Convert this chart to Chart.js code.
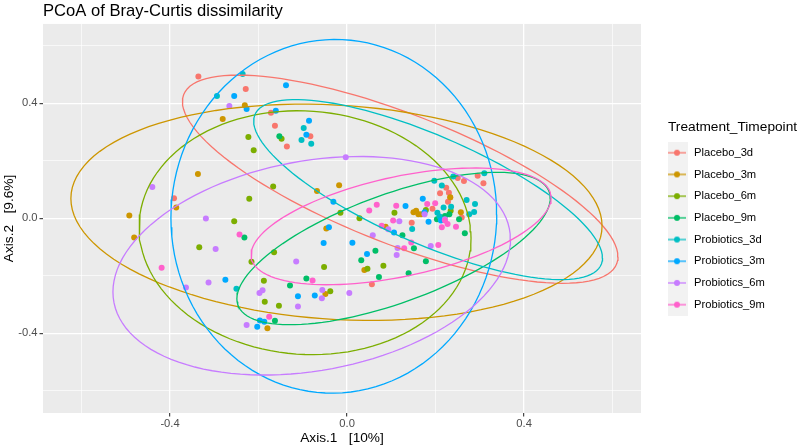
<!DOCTYPE html>
<html>
<head>
<meta charset="utf-8">
<script src="https://cdn.jsdelivr.net/npm/chart.js@4.4.1/dist/chart.umd.min.js"></script>
<style>
  html, body { margin: 0; padding: 0; background: #fff; }
  #wrap { width: 800px; height: 448px; }
</style>
</head>
<body>
<div id="wrap"><canvas id="grafico"></canvas></div>
<script>
// grupos e cores (paleta padrao do ggplot)
const grupos = ['Placebo_3d', 'Placebo_3m', 'Placebo_6m', 'Placebo_9m',
  'Probiotics_3d', 'Probiotics_3m', 'Probiotics_6m', 'Probiotics_9m'];
const cores = ['#F8766D', '#CD9600', '#7CAE00', '#00BE67',
  '#00BFC4', '#00A9FF', '#C77CFF', '#FF61CC'];

// pontos [Axis.1, Axis.2]
const placebo3d = [[-0.336,0.493],[-0.229,0.450],[-0.172,0.367],[-0.163,0.322],[-0.083,0.285],[-0.136,0.250],
  [-0.391,0.070],[0.250,0.140],[0.264,0.130],[0.295,0.148],[0.308,0.122],[0.224,0.106],[0.210,0.087],
  [0.230,0.089],[0.233,0.072],[0.228,0.058],[0.193,0.033],[0.146,-0.015],[0.056,-0.229],[0.259,0.003]];
const placebo3m = [[-0.281,0.345],[-0.231,0.393],[-0.337,0.154],[-0.386,0.038],[-0.492,0.010],[-0.481,-0.067],
  [-0.068,0.095],[-0.018,0.115],[-0.047,-0.035],[0.087,-0.029],[0.150,0.021],[0.156,0.026],[0.161,0.014],
  [0.167,0.014],[0.257,0.021],[0.233,0.073],[0.039,-0.180],[-0.049,-0.263],[-0.180,-0.382]];
const placebo6m = [[-0.223,0.283],[-0.148,0.277],[-0.211,0.237],[-0.167,0.111],[-0.221,0.068],[-0.255,-0.010],
  [-0.015,0.019],[0.028,0.000],[0.107,0.019],[0.178,0.029],[0.234,0.026],[-0.334,-0.101],[-0.165,-0.118],
  [-0.216,-0.151],[-0.052,-0.169],[0.046,-0.175],[0.082,-0.165],[-0.188,-0.217],[-0.038,-0.254],
  [-0.186,-0.290],[-0.154,-0.304]];
const placebo9m = [[-0.153,0.285],[-0.232,-0.067],[0.231,0.014],[0.221,0.008],[0.203,-0.003],[0.253,-0.003],
  [0.266,-0.052],[0.125,-0.059],[0.151,-0.104],[0.178,-0.149],[0.064,-0.113],[0.032,-0.146],[0.139,-0.191],
  [0.072,-0.204],[-0.092,-0.209],[-0.129,-0.234],[-0.163,-0.356]];
const probiotics3d = [[-0.294,0.425],[-0.236,0.502],[-0.098,0.314],[-0.103,0.272],[-0.081,0.259],[0.197,0.131],
  [0.214,0.114],[0.310,0.157],[0.240,0.145],[0.270,0.064],[0.289,0.050],[0.218,0.038],[0.235,0.040],
  [0.204,0.019],[0.287,0.022],[0.276,0.014],[0.209,0.006],[0.147,-0.037],[-0.250,-0.245]];
const probiotics3m = [[-0.255,0.425],[-0.138,0.463],[-0.227,0.380],[-0.161,0.374],[-0.086,0.339],[-0.092,0.291],
  [-0.031,0.058],[-0.041,-0.031],[0.106,-0.049],[0.171,0.068],[0.132,0.043],[0.175,0.021],[0.212,-0.008],
  [0.184,-0.012],[-0.275,-0.214],[-0.053,-0.086],[0.012,-0.085],[0.045,-0.124],[-0.073,-0.268],
  [-0.111,-0.271],[-0.197,-0.355],[-0.187,-0.360],[-0.203,-0.377]];
const probiotics6m = [[-0.266,0.391],[-0.440,0.109],[-0.319,-0.001],[-0.003,0.212],[0.118,-0.010],[0.093,-0.038],
  [0.058,-0.059],[0.175,0.014],[0.221,-0.003],[0.114,-0.103],[0.189,-0.096],[0.112,-0.128],[-0.297,-0.107],
  [-0.313,-0.223],[-0.364,-0.241],[-0.115,-0.150],[-0.191,-0.250],[-0.198,-0.260],[-0.056,-0.249],
  [0.005,-0.260],[-0.057,-0.278],[-0.111,-0.307],[-0.227,-0.371]];
const probiotics9m = [[-0.243,-0.056],[0.067,0.047],[0.050,0.027],[0.111,0.044],[0.104,-0.008],[0.078,-0.026],
  [0.181,0.050],[0.199,0.052],[0.221,-0.008],[0.227,-0.020],[0.214,-0.031],[0.246,-0.029],[0.145,-0.084],
  [0.129,-0.104],[0.206,-0.093],[-0.419,-0.172],[-0.078,-0.216],[-0.176,-0.342]];
const pontos = [placebo3d, placebo3m, placebo6m, placebo9m, probiotics3d, probiotics3m, probiotics6m, probiotics9m];

// elipses 95%: centro, meia-largura, meia-altura e correlacao
const elipseCx = [0.120, -0.024, -0.095, 0.105, 0.183, -0.030, -0.080, 0.122];
const elipseCy = [0.136, 0.021, -0.050, -0.105, 0.100, 0.007, -0.165, -0.028];
const elipseRx = [0.492, 0.600, 0.375, 0.354, 0.394, 0.368, 0.449, 0.339];
const elipseRy = [0.362, 0.376, 0.424, 0.265, 0.313, 0.615, 0.380, 0.203];
const elipseRho = [-0.745, -0.127, -0.045, 0.660, -0.760, 0.010, 0.240, 0.490];

// eixos
const limitesX = [-0.687, 0.664];
const limitesY = [-0.677, 0.676];
const gradeX = [-0.6, -0.4, -0.2, 0, 0.2, 0.4, 0.6];
const gradeY = [-0.6, -0.4, -0.2, 0, 0.2, 0.4, 0.6];
const marcas = [-0.4, 0, 0.4];

const fonte = "'Liberation Sans', Arial, sans-serif";
Chart.defaults.font.family = fonte;

function ehMarca(v) {
  return marcas.some(m => Math.abs(m - v) < 1e-9);
}

function contornoElipse(i) {
  const fase = Math.acos(elipseRho[i]);
  const lista = [];
  for (let k = 0; k <= 120; k++) {
    const t = 2 * Math.PI * k / 120;
    lista.push({x: elipseCx[i] + elipseRx[i] * Math.cos(t), y: elipseCy[i] + elipseRy[i] * Math.cos(t - fase)});
  }
  return lista;
}

function geraChave(cor) {
  const c = document.createElement('canvas');
  c.width = 35;
  c.height = 22;
  const g = c.getContext('2d');
  g.fillStyle = '#F2F2F2';
  g.fillRect(0, 0, 22, 22);
  g.strokeStyle = cor;
  g.lineWidth = 1.3;
  g.beginPath();
  g.moveTo(2, 11);
  g.lineTo(20, 11);
  g.stroke();
  g.fillStyle = cor;
  g.beginPath();
  g.arc(11, 11, 3, 0, Math.PI * 2);
  g.fill();
  return c;
}

const fundoPainel = {
  id: 'fundoPainel',
  beforeDraw(chart) {
    const {ctx, chartArea: a} = chart;
    ctx.save();
    ctx.fillStyle = '#EBEBEB';
    ctx.fillRect(a.left, a.top, a.right - a.left, a.bottom - a.top);
    ctx.restore();
  }
};

// legenda com largura fixa para caber o titulo
const larguraLegenda = {
  id: 'larguraLegenda',
  afterInit(chart) {
    const leg = chart.legend;
    const fitOriginal = leg.fit.bind(leg);
    leg.fit = () => {
      fitOriginal();
      leg.width = 132;
    };
  }
};

const datasets = [];
grupos.forEach((nome, i) => {
  datasets.push({
    label: nome,
    data: pontos[i].map(([x, y]) => ({x, y})),
    backgroundColor: cores[i],
    borderWidth: 0,
    pointRadius: 3,
    yAxisID: 'y',
    order: 20 - i
  });
});
grupos.forEach((nome, i) => {
  datasets.push({
    label: nome + ' elipse',
    data: contornoElipse(i),
    showLine: true,
    fill: false,
    borderColor: cores[i],
    borderWidth: 1.3,
    pointRadius: 0,
    tension: 0,
    yAxisID: 'y',
    order: 10 - i
  });
});

function opcoesGrade() {
  return {
    color: '#FFFFFF',
    lineWidth: ctx => ehMarca(ctx.tick.value) ? 1.3 : 0.65,
    tickColor: ctx => ehMarca(ctx.tick.value) ? '#333333' : 'rgba(0,0,0,0)',
    tickWidth: 1.1,
    tickLength: 3.5
  };
}

const grafico = new Chart(document.getElementById('grafico'), {
  type: 'scatter',
  data: {datasets},
  options: {
    responsive: true,
    maintainAspectRatio: false,
    animation: false,
    layout: {padding: {left: 0, right: 0, top: 0, bottom: 0}},
    scales: {
      x: {
        type: 'linear',
        min: limitesX[0],
        max: limitesX[1],
        afterBuildTicks: axis => { axis.ticks = gradeX.map(v => ({value: v})); },
        afterFit: axis => { axis.height = 35; },
        grid: opcoesGrade(),
        border: {display: false},
        ticks: {
          autoSkip: false,
          maxRotation: 0,
          padding: 1,
          color: '#4D4D4D',
          font: {size: 11.2},
          callback: v => ehMarca(v) ? (Math.abs(v) < 1e-9 ? '0.0' : v.toFixed(1)) : ''
        },
        title: {display: true, text: 'Axis.1   [10%]', color: '#000', font: {size: 13.7}, padding: {top: 0, bottom: 2}}
      },
      y: {
        type: 'linear',
        axis: 'y',
        position: 'left',
        min: limitesY[0],
        max: limitesY[1],
        afterBuildTicks: axis => { axis.ticks = gradeY.map(v => ({value: v})); },
        afterFit: axis => { axis.width = 43; },
        grid: opcoesGrade(),
        border: {display: false},
        ticks: {
          autoSkip: false,
          padding: 2,
          color: '#4D4D4D',
          font: {size: 11.2},
          callback: v => ehMarca(v) ? (Math.abs(v) < 1e-9 ? '0.0' : v.toFixed(1)) : ''
        },
        title: {display: true, text: 'Axis.2   [9.6%]', color: '#000', font: {size: 13.7}, padding: {top: 1, bottom: 0}}
      },
      folga: {
        type: 'linear',
        axis: 'y',
        position: 'right',
        display: true,
        grid: {display: false},
        border: {display: false},
        ticks: {display: false},
        afterFit: axis => { axis.width = 27; }
      }
    },
    plugins: {
      tooltip: {enabled: false},
      title: {
        display: true,
        text: 'PCoA of Bray-Curtis dissimilarity',
        align: 'start',
        fullSize: false,
        color: '#000',
        font: {size: 16.6, weight: 'normal'},
        padding: {top: 1, bottom: 3}
      },
      legend: {
        position: 'right',
        align: 'center',
        fullSize: false,
        title: {
          display: true,
          text: 'Treatment_Timepoint',
          position: 'start',
          color: '#000',
          font: {size: 13.7},
          padding: {top: 4, bottom: 0}
        },
        labels: {
          usePointStyle: true,
          pointStyleWidth: 9.9,
          padding: 10.5,
          color: '#000',
          font: {size: 11.2},
          generateLabels: () => grupos.map((nome, i) => ({
            text: nome,
            fillStyle: cores[i],
            strokeStyle: cores[i],
            lineWidth: 0,
            pointStyle: geraChave(cores[i]),
            datasetIndex: i,
            hidden: false
          }))
        }
      }
    }
  },
  plugins: [fundoPainel, larguraLegenda]
});

// acerta a borda direita do painel
const ajuste = grafico.chartArea.right - 641;
grafico.options.layout.padding.right += ajuste;
grafico.update('none');
</script>
</body>
</html>
